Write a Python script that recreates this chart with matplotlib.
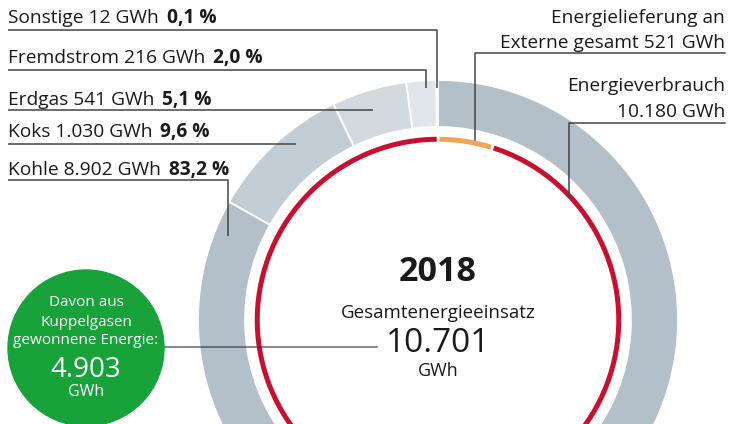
import numpy as np
import matplotlib
matplotlib.use('Agg')
import matplotlib.pyplot as plt
from matplotlib.patches import Circle

# Energy input 2018 (GWh), outer ring, counter-clockwise from the top
sources = ['Sonstige', 'Fremdstrom', 'Erdgas', 'Koks', 'Kohle']
source_gwh = [12, 216, 541, 1030, 8902]
source_colors = ['#eceff2', '#e0e5e9', '#d2d9df', '#c3cdd5', '#b3bfc9']

# Energy use, inner ring, clockwise from the top
uses = ['Energielieferung an Externe gesamt', 'Energieverbrauch']
use_gwh = [521, 10180]
use_colors = ['#eea653', '#c8102e']

year = 2018
kuppelgas_gwh = 4903

W, H = 731, 424
plt.rcParams['font.family'] = ['Open Sans', 'DejaVu Sans']
TXT = '#1a1a1a'
LINE = '#444444'


def de(n):
    return f'{n:,}'.replace(',', '.')


def py(y):
    # pixel y (from top) -> data y
    return H - y


fig = plt.figure(figsize=(W / 100, H / 100), dpi=100)
ax = fig.add_axes([0, 0, 1, 1])

cx, cy = 438, py(320)
ax.pie(source_gwh, colors=source_colors, radius=240, center=(cx, cy),
       startangle=90, counterclock=True,
       wedgeprops=dict(width=47, edgecolor='white', linewidth=1.3))
ax.pie(use_gwh, colors=use_colors, radius=184.5, center=(cx, cy),
       startangle=90, counterclock=False,
       wedgeprops=dict(width=7.5, edgecolor='white', linewidth=1.8))

ax.set_xlim(0, W)
ax.set_ylim(0, H)
ax.set_aspect('equal')
ax.axis('off')

fig.canvas.draw()
renderer = fig.canvas.get_renderer()

# left labels: (text y, underline y, line end x, drop to y)
total = sum(source_gwh)
left_layout = {
    'Sonstige': (18, 30, 437, 88),
    'Fremdstrom': (58, 70, 426, 88),
    'Erdgas': (100, 110, 373, None),
    'Koks': (132, 144, 296, None),
    'Kohle': (170, 180, 228, 236),
}
fs = 13.8
for name, val in zip(sources, source_gwh):
    ty, ly, lx, drop = left_layout[name]
    t = ax.text(8, py(ty), f'{name} {de(val)} GWh', fontsize=fs, color=TXT,
                va='center', ha='left')
    bb = t.get_window_extent(renderer)
    pct = f'{val / total * 100:.1f} %'.replace('.', ',')
    ax.text(bb.x1 + 8, py(ty), pct, fontsize=fs, color=TXT,
            fontweight='bold', va='center', ha='left')
    xs = [8, lx] if drop is None else [8, lx, lx]
    ys = [py(ly), py(ly)] if drop is None else [py(ly), py(ly), py(drop)]
    ax.plot(xs, ys, color=LINE, lw=1.1, solid_capstyle='butt')

# right labels
ax.text(725, py(18), 'Energielieferung an', fontsize=fs, color=TXT,
        ha='right', va='center')
ax.text(725, py(43), f'Externe gesamt {de(use_gwh[0])} GWh', fontsize=fs,
        color=TXT, ha='right', va='center')
ax.plot([725, 475, 475], [py(53), py(53), py(140)], color=LINE, lw=1.1)
ax.text(725, py(86), 'Energieverbrauch', fontsize=fs, color=TXT,
        ha='right', va='center')
ax.text(725, py(112), f'{de(use_gwh[1])} GWh', fontsize=fs, color=TXT,
        ha='right', va='center')
ax.plot([725, 569, 569], [py(123), py(123), py(197)], color=LINE, lw=1.1)

# centre
ax.text(cx, py(272), str(year), fontsize=24.5, fontweight='bold', color=TXT,
        ha='center', va='center')
ax.text(cx, py(313), 'Gesamtenergieeinsatz', fontsize=13.5, color=TXT,
        ha='center', va='center')
ax.text(cx, py(343), de(total), fontsize=24, color=TXT,
        ha='center', va='center')
ax.text(cx, py(371), 'GWh', fontsize=13, color=TXT,
        ha='center', va='center')

# green bubble
ax.plot([160, 377], [py(347), py(347)], color='#333333', lw=1.1, alpha=0.75,
        zorder=5)
ax.add_patch(Circle((86, py(348)), 78, color='#17a23a', zorder=6))
for y, s, f in [(302, 'Davon aus', 11), (322, 'Kuppelgasen', 11),
                (341, 'gewonnene Energie:', 11), (370, de(kuppelgas_gwh), 20),
                (392, 'GWh', 11.5)]:
    ax.text(86, py(y), s, fontsize=f, color='white', ha='center',
            va='center', zorder=7)

fig.savefig('out.png', dpi=100)
